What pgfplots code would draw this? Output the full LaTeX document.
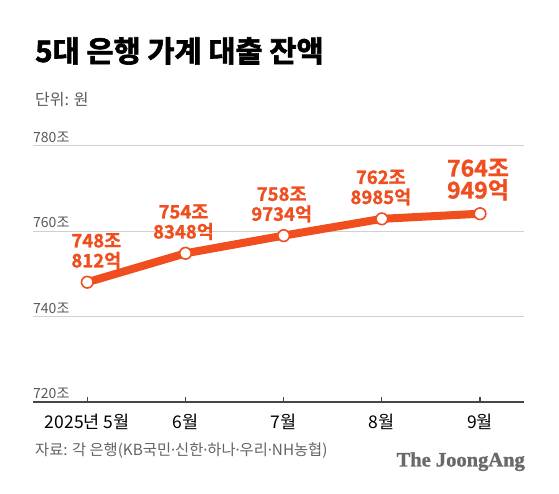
\documentclass[border=0pt]{standalone}
\usepackage{fontspec}
\setmainfont{Noto Sans CJK KR}
\newfontfamily\heavyfont{Noto Sans CJK KR}[UprightFont=* Bold, BoldFont=* Bold, UprightFeatures={FakeBold=2.2}]
\newfontfamily\labfont{Noto Sans CJK KR}[UprightFont=* Bold, BoldFont=* Bold, UprightFeatures={FakeBold=1.2}]
\newfontfamily\dotfont{Noto Sans}
\newfontfamily\logofont{Liberation Serif}[UprightFont=* Bold, UprightFeatures={FakeBold=1.2}]
\newcommand\md{{\dotfont ·}}
\usepackage{pgfplots}
\pgfplotsset{compat=1.18}
\definecolor{lineor}{RGB}{240,78,30}
\definecolor{gridc}{RGB}{208,208,208}
\definecolor{axc}{RGB}{70,70,70}
\definecolor{labc}{RGB}{90,90,90}
\definecolor{srcc}{RGB}{100,100,100}
\definecolor{logoc}{RGB}{105,105,105}
\begin{document}
\begin{tikzpicture}[x=1pt,y=1pt]
\useasboundingbox (0,0) rectangle (559,494);
\fill[white] (0,0) rectangle (559,494);
\node[anchor=base west, inner sep=0, font=\heavyfont\fontsize{29.5}{31}\selectfont] at (35,432) {5대 은행 가계 대출 잔액};
\node[anchor=base west, inner sep=0, text=labc, font=\fontsize{16}{18}\selectfont] at (35,388) {단위: 원};
\begin{axis}[
  at={(33pt,91.7pt)}, anchor=south west,
  scale only axis, width=491pt, height=256.6pt,
  xmin=-0.553, xmax=4.448, ymin=720, ymax=780,
  clip=false,
  separate axis lines,
  axis x line*=bottom, axis y line*=left,
  x axis line style={draw=axc, line width=1.6pt, -},
  y axis line style={draw=none},
  xtick={0,1,2,3,4},
  xticklabels={2025년 5월, 6월, 7월, 8월, 9월},
  xticklabel style={font=\fontsize{17.5}{18}\selectfont, text=black, inner sep=0, yshift=-12pt},
  tick align=inside,
  major tick length=5pt,
  xtick style={draw=axc, line width=1.2pt},
  ytick={720,740,760,780},
  yticklabels={720조,740조,760조,780조},
  yticklabel style={anchor=south west, inner sep=0, xshift=0pt, yshift=3pt, font=\fontsize{14}{14}\selectfont, text=labc},
  ytick style={draw=none},
  ymajorgrids,
  grid style={draw=gridc, line width=0.8pt},
]
\addplot[lineor, line width=8pt, line join=round, mark=*, mark size=5.8pt,
  mark options={fill=white, draw=lineor, line width=1.6pt}]
  coordinates {(0,748.0812)(1,754.8348)(2,758.9734)(3,762.8985)(4,764.0949)};
\begin{scope}[every node/.style={anchor=south, align=center, inner sep=0, text=lineor, font=\labfont\fontsize{18.5}{20}\selectfont}]
\node[xshift=9pt, yshift=13pt] at (axis cs:0,748.0812) {748조\\812억};
\node[xshift=-2pt, yshift=13pt] at (axis cs:1,754.8348) {754조\\8348억};
\node[xshift=-2pt, yshift=13pt] at (axis cs:2,758.9734) {758조\\9734억};
\node[xshift=-1pt, yshift=13pt] at (axis cs:3,762.8985) {762조\\8985억};
\node[xshift=-2pt, yshift=13pt, font=\labfont\fontsize{23}{22}\selectfont] at (axis cs:4,764.0949) {764조\\949억};
\end{scope}
\end{axis}
\node[anchor=base west, inner sep=0, text=srcc, font=\fontsize{15.3}{16}\selectfont] at (35,38.5) {자료: 각 은행(KB국민\md 신한\md 하나\md 우리\md NH농협)};
\node[anchor=base east, inner sep=0, text=logoc, font=\logofont\fontsize{20.5}{22}\selectfont] at (525,27.5) {The JoongAng};
\end{tikzpicture}
\end{document}
